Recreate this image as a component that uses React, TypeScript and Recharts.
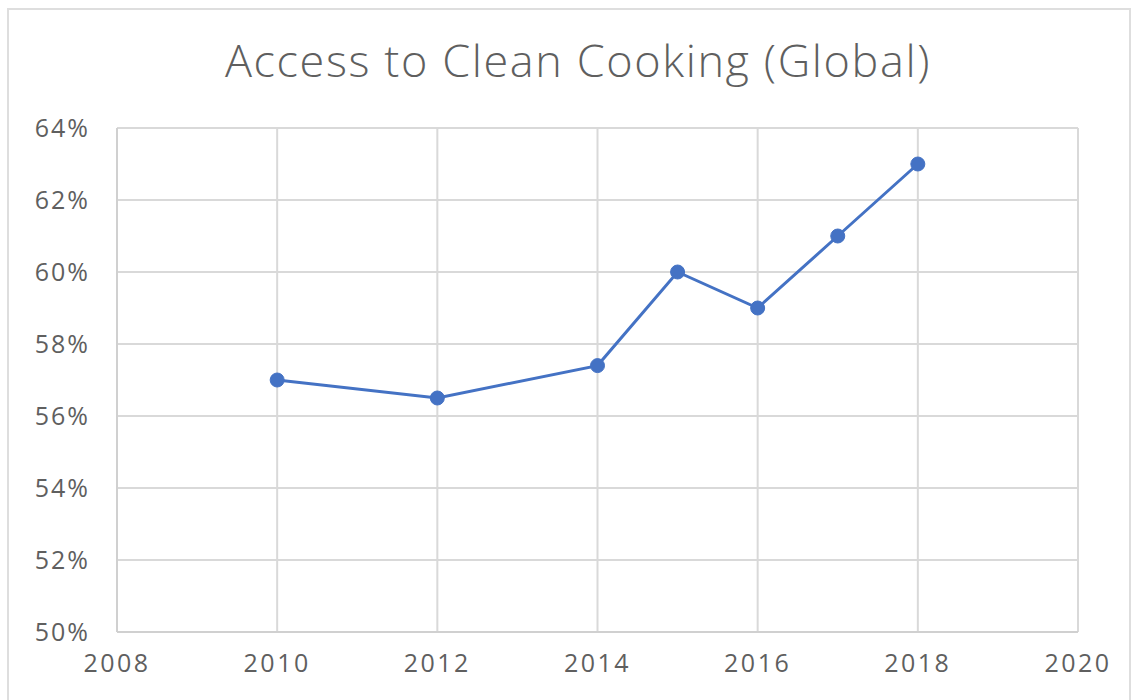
import { LineChart, Line, XAxis, YAxis, CartesianGrid } from "recharts";

const years = [2010, 2012, 2014, 2015, 2016, 2017, 2018];
const access = [57, 56.5, 57.4, 60, 59, 61, 63];
const xTicks = [2008, 2010, 2012, 2014, 2016, 2018, 2020];
const yTicks = [50, 52, 54, 56, 58, 60, 62, 64];

const data = years.map((year, i) => ({ year, access: access[i] }));

const FONT = "'Open Sans', sans-serif";
const TEXT = "#5f5f5f";

export default function App() {
  return (
    <div style={{ position: "absolute", left: 0, top: 0, width: 1141, height: 700, background: "#fff", overflow: "hidden" }}>
      <div
        style={{
          position: "absolute",
          left: 7,
          top: 8,
          width: 1124,
          height: 700,
          border: "2px solid #dedede",
          boxSizing: "border-box",
        }}
      />
      <div
        style={{
          position: "absolute",
          left: 0,
          width: 1156,
          top: 29,
          textAlign: "center",
          fontFamily: FONT,
          fontSize: 45,
          fontWeight: 300,
          color: TEXT,
          letterSpacing: 1.6,
        }}
      >
        Access to Clean Cooking (Global)
      </div>
      <div style={{ position: "absolute", left: 0, top: 0 }}>
        <LineChart width={1141} height={700} data={data} margin={{ top: 128, right: 63, bottom: 0, left: 37 }}>
          <CartesianGrid stroke="#d9d9d9" strokeWidth={2} />
          <XAxis
            dataKey="year"
            type="number"
            domain={[2008, 2020]}
            ticks={xTicks}
            height={68}
            axisLine={{ stroke: "#d0d0d0", strokeWidth: 2 }}
            tickLine={false}
            tickSize={0}
            tickMargin={22}
            tick={{ fill: TEXT, fontSize: 25, fontFamily: FONT, letterSpacing: 2.5 }}
          />
          <YAxis
            type="number"
            domain={[50, 64]}
            ticks={yTicks}
            width={80}
            axisLine={{ stroke: "#d0d0d0", strokeWidth: 2 }}
            tickLine={false}
            tickSize={0}
            tickMargin={27}
            tickFormatter={(v) => `${v}%`}
            tick={{ fill: TEXT, fontSize: 25, fontFamily: FONT, letterSpacing: 2 }}
          />
          <Line
            dataKey="access"
            stroke="#4472c4"
            strokeWidth={3}
            dot={{ r: 7, fill: "#4472c4", stroke: "#4472c4", strokeWidth: 1 }}
            isAnimationActive={false}
          />
        </LineChart>
      </div>
    </div>
  );
}
